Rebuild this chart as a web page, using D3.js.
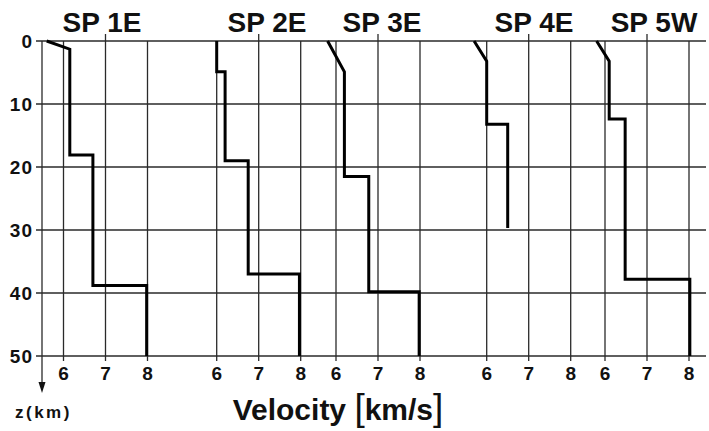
<!DOCTYPE html>
<meta charset='utf-8'>
<style>
body {
    margin: 0;
    background: #fff;
}

.grid {
    stroke: #2a2a2a;
    stroke-width: 1.3px;
    fill: none;
}

.profile {
    fill: none;
    stroke: #000;
    stroke-width: 3px;
    stroke-linejoin: miter;
}

text {
    font-family: 'Liberation Sans', Arial, sans-serif;
    fill: #111;
}
</style>

<body>
    <div class='chart'></div>
    <script src='https://cdn.jsdelivr.net/npm/d3@7'></script>
    <script>
    // stations and their velocity-depth profiles
    var stations = ['SP 1E', 'SP 2E', 'SP 3E', 'SP 4E', 'SP 5W'];

    var sp1V = [5.6, 6.15, 6.15, 6.7, 6.7, 7.98, 7.98];
    var sp1Z = [0, 1.3, 18.1, 18.1, 38.8, 38.8, 50];

    var sp2V = [6.0, 6.0, 6.2, 6.2, 6.75, 6.75, 7.97, 7.97];
    var sp2Z = [0, 4.9, 4.9, 19, 19, 37, 37, 50];

    var sp3V = [5.8, 6.2, 6.2, 6.78, 6.78, 7.98, 7.98];
    var sp3Z = [0, 4.9, 21.5, 21.5, 39.8, 39.8, 50];

    var sp4V = [5.7, 6.0, 6.0, 6.5, 6.5];
    var sp4Z = [0, 3.2, 13.2, 13.2, 29.7];

    var sp5V = [5.8, 6.1, 6.1, 6.48, 6.48, 8.02, 8.02];
    var sp5Z = [0, 3.2, 12.4, 12.4, 37.8, 37.8, 50];

    var depthTicks = [0, 10, 20, 30, 40, 50];
    var velTicks = [6, 7, 8];

    var profilesV = [sp1V, sp2V, sp3V, sp4V, sp5V];
    var profilesZ = [sp1Z, sp2Z, sp3Z, sp4Z, sp5Z];

    var width = 709, height = 431;

    // where each panel's 6 km/s line sits, and title centres
    var panelLeft = [63.5, 216.7, 336, 486.7, 605];
    var panelWidth = 84;
    var titleX = [102, 267, 382, 534, 654];

    var svg = d3.select('.chart').append('svg')
        .attr('width', width)
        .attr('height', height);

    var y = d3.scaleLinear().domain([0, 50]).range([41, 356]);

    // horizontal grid
    svg.selectAll('.hline')
        .data(depthTicks)
        .enter().append('line')
        .attr('class', 'grid')
        .attr('x1', 36).attr('x2', 706)
        .attr('y1', function(d) { return y(d); })
        .attr('y2', function(d) { return y(d); });

    svg.selectAll('.ylab')
        .data(depthTicks)
        .enter().append('text')
        .attr('x', 33)
        .attr('y', function(d) { return y(d) + 7; })
        .attr('text-anchor', 'end')
        .style('font-size', '19px')
        .style('font-weight', 'bold')
        .style('letter-spacing', '1px')
        .text(function(d) { return d; });

    // depth axis with arrow
    svg.append('line')
        .attr('class', 'grid')
        .attr('x1', 42).attr('x2', 42)
        .attr('y1', y(0)).attr('y2', 386);
    svg.append('path')
        .attr('d', 'M38.5,382 L45.5,382 L42,393 Z')
        .attr('fill', '#111');

    svg.append('text')
        .attr('x', 15).attr('y', 418)
        .style('font-size', '17px')
        .style('font-weight', 'bold')
        .style('letter-spacing', '2.5px')
        .text('z(km)');

    var line = d3.line();

    stations.forEach(function(name, i) {
        var x = d3.scaleLinear().domain([6, 8]).range([panelLeft[i], panelLeft[i] + panelWidth]);
        var g = svg.append('g');

        g.selectAll('.vline')
            .data(velTicks)
            .enter().append('line')
            .attr('class', 'grid')
            .attr('x1', function(d) { return x(d); })
            .attr('x2', function(d) { return x(d); })
            .attr('y1', function(d) { return d === 7 ? 34 : y(0); })
            .attr('y2', 361);

        g.selectAll('.xlab')
            .data(velTicks)
            .enter().append('text')
            .attr('x', function(d) { return x(d); })
            .attr('y', 380)
            .attr('text-anchor', 'middle')
            .style('font-size', '19px')
            .style('font-weight', 'bold')
            .text(function(d) { return d; });

        var pts = profilesV[i].map(function(v, j) {
            return [x(v), y(profilesZ[i][j])];
        });
        g.append('path')
            .attr('class', 'profile')
            .attr('d', line(pts));

        g.append('text')
            .attr('x', titleX[i])
            .attr('y', 32)
            .attr('text-anchor', 'middle')
            .style('font-size', '28px')
            .style('font-weight', 'bold')
            .text(name);
    });

    var xt = svg.append('text')
        .attr('x', 338).attr('y', 420)
        .attr('text-anchor', 'middle')
        .style('font-size', '30px')
        .style('font-weight', 'bold');
    xt.append('tspan').text('Velocity ');
    xt.append('tspan').style('font-weight', 'normal').style('font-size', '37px').text('[');
    xt.append('tspan').text('km/s');
    xt.append('tspan').style('font-weight', 'normal').style('font-size', '37px').text(']');
    </script>
